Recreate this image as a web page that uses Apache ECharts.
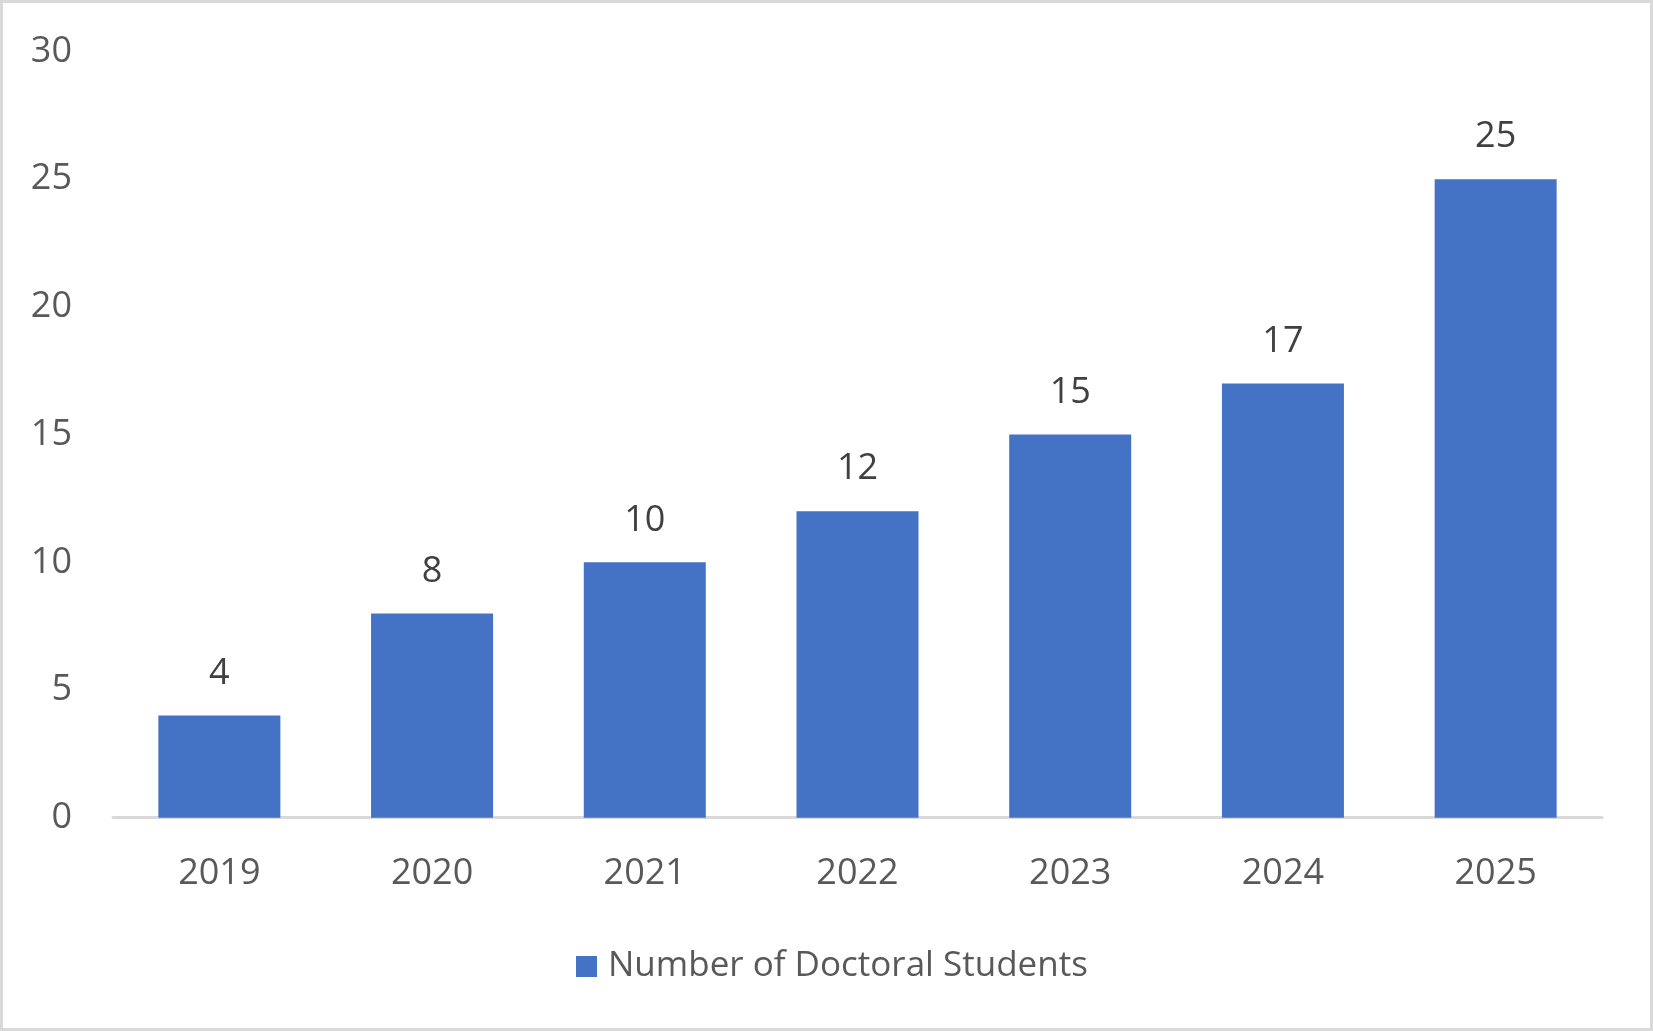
<!DOCTYPE html>
<html>
<head>
<meta charset="utf-8">
<script src="https://cdn.jsdelivr.net/npm/echarts@6/dist/echarts.min.js"></script>
<style>
html,body{margin:0;padding:0;background:#fff;}
#chart{width:1653px;height:1031px;}
</style>
</head>
<body>
<div id="chart"></div>
<script>
const categories = ['2019','2020','2021','2022','2023','2024','2025'];
const students = [4, 8, 10, 12, 15, 17, 25];
const seriesName = 'Number of Doctoral Students';
const yTicks = {min: 0, max: 30, interval: 5};

const font = '"Open Sans", "Noto Sans", sans-serif';
const chart = echarts.init(document.getElementById('chart'));
chart.setOption({
  animation: false,
  backgroundColor: '#ffffff',
  graphic: [{
    type: 'rect',
    shape: {x: 1.5, y: 1.5, width: 1650, height: 1028},
    style: {fill: 'none', stroke: '#d9d9d9', lineWidth: 3},
    silent: true
  }],
  grid: {left: 113, right: 51, top: 51.5, bottom: 213.3, containLabel: false},
  legend: {
    data: [seriesName],
    left: 571,
    top: 944,
    icon: 'rect',
    itemWidth: 21,
    itemHeight: 21,
    textStyle: {fontFamily: font, fontSize: 35, color: '#595959', padding: [0,0,0,6]}
  },
  xAxis: {
    type: 'category',
    data: categories,
    axisLine: {lineStyle: {color: '#d9d9d9', width: 3}},
    axisTick: {show: false},
    axisLabel: {fontFamily: font, fontSize: 36, color: '#595959', margin: 38}
  },
  yAxis: {
    type: 'value',
    min: yTicks.min, max: yTicks.max, interval: yTicks.interval,
    splitLine: {show: false},
    axisLine: {show: false},
    axisTick: {show: false},
    axisLabel: {fontFamily: font, fontSize: 36, color: '#595959', margin: 41}
  },
  series: [{
    name: seriesName,
    type: 'bar',
    data: students,
    barWidth: 122,
    itemStyle: {color: '#4472c4'},
    label: {show: true, position: 'top', distance: 24, fontFamily: font, fontSize: 36, color: '#404040'}
  }]
});
</script>
</body>
</html>
